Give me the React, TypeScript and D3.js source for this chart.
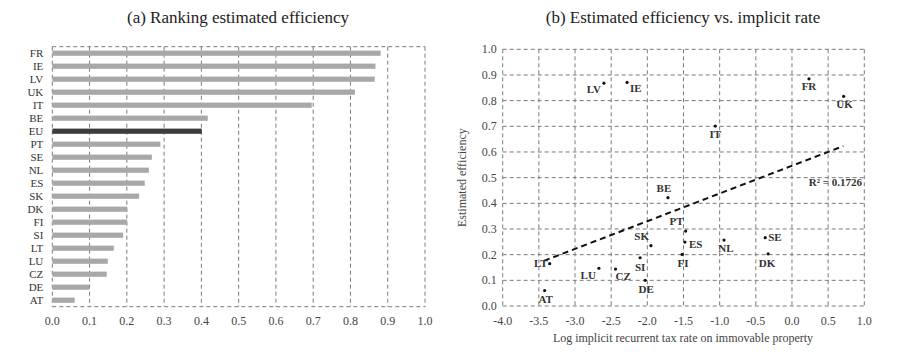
import * as d3 from 'd3';

// (a) ranking
const countries = ['FR', 'IE', 'LV', 'UK', 'IT', 'BE', 'EU', 'PT', 'SE', 'NL', 'ES', 'SK', 'DK', 'FI', 'SI', 'LT', 'LU', 'CZ', 'DE', 'AT'];
const efficiency = [0.881, 0.867, 0.865, 0.812, 0.696, 0.417, 0.401, 0.29, 0.267, 0.259, 0.248, 0.233, 0.201, 0.201, 0.19, 0.165, 0.149, 0.146, 0.099, 0.06];

// (b) scatter: log implicit rate vs efficiency
const scatterNames = ['LV', 'IE', 'FR', 'UK', 'IT', 'BE', 'PT', 'ES', 'SK', 'SI', 'FI', 'NL', 'SE', 'DK', 'LT', 'LU', 'CZ', 'DE', 'AT'];
const logRate = [-2.6, -2.28, 0.235, 0.714, -1.06, -1.715, -1.47, -1.48, -1.95, -2.1, -1.52, -0.94, -0.37, -0.33, -3.35, -2.67, -2.44, -2.03, -3.42];
const scatterEff = [0.868, 0.871, 0.885, 0.817, 0.701, 0.422, 0.292, 0.249, 0.235, 0.188, 0.201, 0.257, 0.266, 0.203, 0.165, 0.147, 0.144, 0.1, 0.06];
// label offsets relative to dot (dx, dy, anchor)
const labelPos: [number, number, string][] = [
  [-3, 10, 'end'], [3, 10, 'start'], [0, 11, 'middle'], [1, 12, 'middle'], [0, 12, 'middle'],
  [-4, -6, 'middle'], [-2, -6, 'end'], [4, 6, 'start'], [-2, -6, 'end'], [0, 13, 'middle'],
  [1, 13, 'middle'], [2, 12, 'middle'], [3, 3, 'start'], [-1, 13, 'middle'], [-2, 3, 'end'],
  [-3, 11, 'end'], [0, 11, 'start'], [1, 13, 'middle'], [1, 12, 'middle'],
];
const trendX = [-3.43, 0.71];
const trendY = [0.176, 0.623];

const xTicksA = d3.range(0, 1.01, 0.1);
const xTicksB = d3.range(-4, 1.01, 0.5);
const yTicksB = d3.range(0, 1.01, 0.1);

const FONT = '"Liberation Serif", "DejaVu Serif", serif';
const GRID = '#7a7a7a';
const DASH = '4,3';

function PanelA() {
  const left = 52.3, right = 425, top = 46.7, bottom = 306.7;
  const x = d3.scaleLinear().domain([0, 1]).range([left, right]);
  const y = d3.scaleBand().domain(countries).range([top, bottom]).paddingInner(0.6).paddingOuter(0.3);
  return (
    <g>
      <text x={238} y={23} textAnchor="middle" fontSize={17} fill="#222">(a) Ranking estimated efficiency</text>
      {xTicksA.map((t) => (
        <line key={t} x1={x(t)} x2={x(t)} y1={top} y2={bottom} stroke={GRID} strokeDasharray={DASH} />
      ))}
      <line x1={left} x2={right} y1={top} y2={top} stroke={GRID} strokeDasharray={DASH} />
      <line x1={left} x2={right} y1={bottom} y2={bottom} stroke={GRID} strokeDasharray={DASH} />
      {countries.map((c, i) => (
        <rect key={c} x={x(0)} y={y(c)} width={x(efficiency[i]) - x(0)} height={y.bandwidth()} fill={c === 'EU' ? '#3c3c3c' : '#a8a8a8'} />
      ))}
      {countries.map((c) => (
        <text key={c} x={left - 9} y={y(c)! + y.bandwidth() / 2 + 3.5} textAnchor="end" fontSize={11} fill="#333">{c}</text>
      ))}
      {xTicksA.map((t) => (
        <text key={t} x={x(t)} y={325} textAnchor="middle" fontSize={12} fill="#444">{t.toFixed(1)}</text>
      ))}
    </g>
  );
}

function PanelB() {
  const left = 502.7, right = 864.3, top = 49.3, bottom = 306;
  const x = d3.scaleLinear().domain([-4, 1]).range([left, right]);
  const y = d3.scaleLinear().domain([0, 1]).range([bottom, top]);
  const trend = d3.line<number>().x((d) => x(trendX[d])).y((d) => y(trendY[d]));
  return (
    <g>
      <text x={683} y={23} textAnchor="middle" fontSize={17} fill="#222">(b) Estimated efficiency vs. implicit rate</text>
      {yTicksB.map((t) => (
        <line key={'h' + t} x1={left} x2={right} y1={y(t)} y2={y(t)} stroke={GRID} strokeDasharray={DASH} />
      ))}
      {xTicksB.map((t) => (
        <line key={'v' + t} x1={x(t)} x2={x(t)} y1={top} y2={bottom} stroke={GRID} strokeDasharray={DASH} />
      ))}
      <path d={trend([0, 1]) ?? ''} fill="none" stroke="#111" strokeWidth={2} strokeDasharray="6,4" />
      {scatterNames.map((n, i) => (
        <g key={n}>
          <circle cx={x(logRate[i])} cy={y(scatterEff[i])} r={1.6} fill="#111" />
          <text x={x(logRate[i]) + labelPos[i][0]} y={y(scatterEff[i]) + labelPos[i][1]} textAnchor={labelPos[i][2]} fontSize={11} fontWeight="bold" fill="#333">{n}</text>
        </g>
      ))}
      <text x={862} y={186} textAnchor="end" fontSize={11} fontWeight="bold" fill="#333">R² = 0.1726</text>
      {yTicksB.map((t) => (
        <text key={'yl' + t} x={left - 6} y={y(t) + 4} textAnchor="end" fontSize={12} fill="#444">{t.toFixed(1)}</text>
      ))}
      {xTicksB.map((t) => (
        <text key={'xl' + t} x={x(t)} y={325} textAnchor="middle" fontSize={12} fill="#444">{t.toFixed(1)}</text>
      ))}
      <text x={683} y={342} textAnchor="middle" fontSize={12} fill="#444">Log implicit recurrent tax rate on immovable property</text>
      <text transform={`translate(466,${(top + bottom) / 2}) rotate(-90)`} textAnchor="middle" fontSize={12} fill="#444">Estimated efficiency</text>
    </g>
  );
}

export default function App() {
  return (
    <svg width={900} height={360} style={{ position: 'absolute', left: 0, top: 0, background: '#fff', fontFamily: FONT }} fontFamily={FONT}>
      <rect width={900} height={360} fill="#fff" />
      <PanelA />
      <PanelB />
    </svg>
  );
}
